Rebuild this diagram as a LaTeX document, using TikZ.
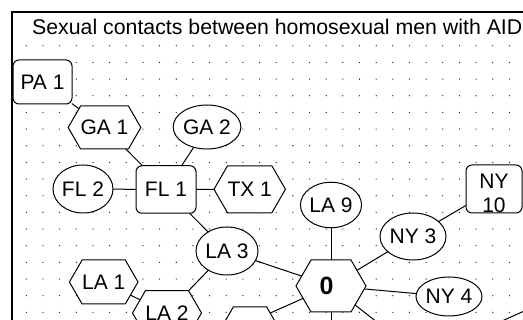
\documentclass[tikz,border=0pt]{standalone}
\usepackage{fontspec}
\setmainfont{Liberation Sans}
\usetikzlibrary{shapes.geometric,shapes.symbols}
\tikzset{
  lbl/.style={font=\fontsize{21}{24.5}\selectfont, inner sep=0pt, outer sep=0pt, draw=black, line width=1pt, fill=white},
  ell/.style={lbl, ellipse},
  rbox/.style={lbl, rectangle, rounded corners=6pt},
  hexa/.style={lbl, signal, signal to=west and east, signal pointer angle=120},
  link/.style={line width=1pt, black},
  griddot/.style={fill=black!90},
  frameline/.style={line width=1.5pt, black},
}
\begin{document}
\begin{tikzpicture}[x=1pt,y=-1pt]
\useasboundingbox (0,0) rectangle (523,320);
\clip (0,0) rectangle (523,320);
\foreach \i in {0,...,29}{\foreach \j in {0,...,16}{\fill[griddot] ({26.3+16.66*\i},{45.8+16.66*\j}) circle (0.65pt);}}

\node[anchor=base west, inner sep=0pt, font=\fontsize{21.3}{25}\selectfont] (title) at (32,35) {Sexual contacts between homosexual men with AID};

\node[rbox, minimum width=59pt, minimum height=44pt] (pa1) at (42.5,82) {PA 1};
\node[hexa, minimum width=59pt, minimum height=43pt] (ga1) at (104.5,127.5) {GA 1};
\node[ell, minimum width=59pt, minimum height=44pt] (ga2) at (207,127) {GA 2};
\node[ell, minimum width=60pt, minimum height=48pt] (fl2) at (83,189) {FL 2};
\node[rbox, minimum width=60pt, minimum height=47.5pt] (fl1) at (166,189.5) {FL 1};
\node[hexa, minimum width=59pt, minimum height=47pt] (tx1) at (249.7,189.3) {TX 1};
\node[ell, minimum width=59pt, minimum height=45.5pt] (la9) at (331,205) {LA 9};
\node[ell, minimum width=60pt, minimum height=47pt] (ny3) at (413,236.5) {NY 3};
\node[rbox, minimum width=56pt, minimum height=48pt, align=center] (ny10) at (494,189) {\rule{0pt}{23pt}NY\\10};
\node[ell, minimum width=62pt, minimum height=48pt] (la3) at (227,251) {LA 3};
\node[hexa, minimum width=70pt, minimum height=52pt, font=\bfseries\fontsize{25}{30}\selectfont] (zero) at (331,286) {0\kern9pt};
\node[ell, minimum width=62pt, minimum height=39pt] (ny4) at (449,296.5) {NY 4};
\node[hexa, minimum width=60.7pt, minimum height=44pt] (la1) at (103.7,282) {LA 1};
\node[hexa, minimum width=59.4pt, minimum height=44.6pt] (la2) at (167,313) {LA 2};
\node[hexa, minimum width=60pt, minimum height=46pt] (hexb) at (250,330) {};
\coordinate (offb) at (331,345);
\coordinate (offbr) at (406,345);
\coordinate (offr1) at (540,303.9);
\coordinate (offr2) at (490,326.4);

\draw[link] (pa1) -- (ga1);
\draw[link] (ga1) -- (fl1);
\draw[link] (ga2) -- (fl1);
\draw[link] (fl2) -- (fl1);
\draw[link] (fl1) -- (tx1);
\draw[link] (fl1) -- (la3);
\draw[link] (la3) -- (la2);
\draw[link] (la1) -- (la2);
\draw[link] (la3) -- (zero);
\draw[link] (zero) -- (hexb.40);
\draw[link] (la9) -- (zero);
\draw[link] (zero) -- (ny3);
\draw[link] (ny3) -- (ny10);
\draw[link] (zero) -- (ny4);
\draw[link] (zero) -- (offb);
\draw[link] (zero) -- (offbr);
\draw[link] (offr1) -- (offr2);

\draw[frameline] (12,320) -- (12,12) -- (523,12);
\end{tikzpicture}
\end{document}
